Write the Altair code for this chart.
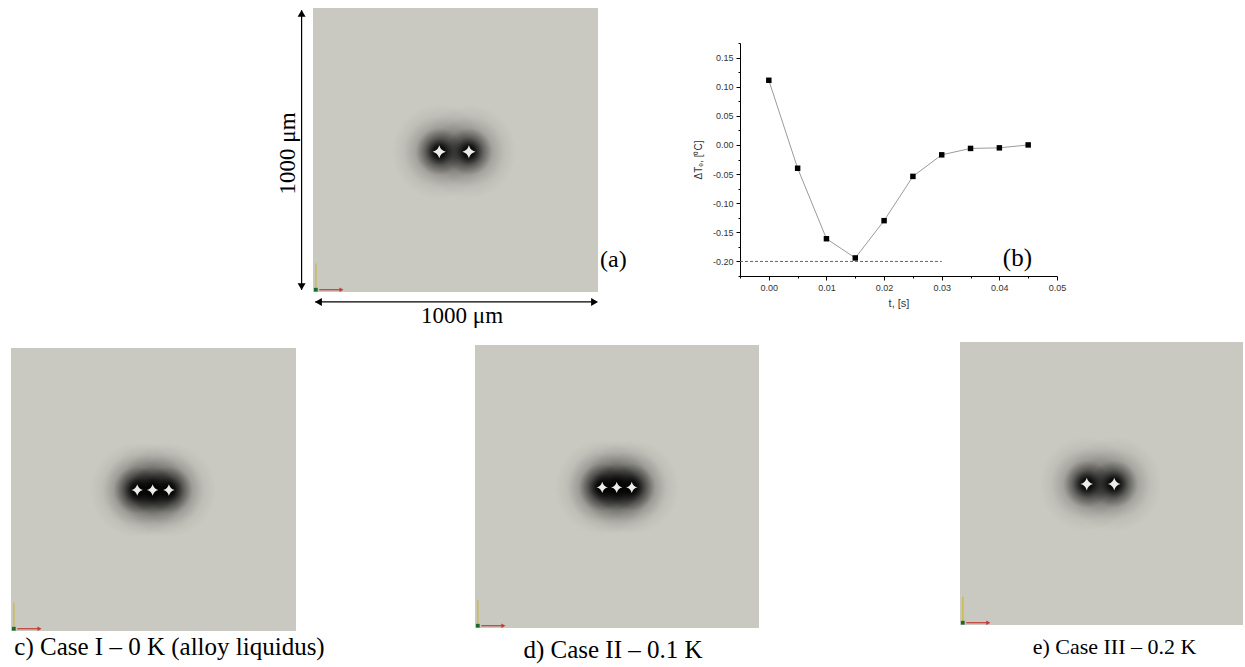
import altair as alt
import pandas as pd

# ------------------------------------------------------------------ values
# (b) undercooling of the domain versus time
t_s = [0.000, 0.005, 0.010, 0.015, 0.020, 0.025, 0.030, 0.035, 0.040, 0.045]
dT_C = [0.111, -0.040, -0.161, -0.194, -0.130, -0.054, -0.017, -0.006, -0.005, 0.000]
ref_t = [-0.005, 0.030]
ref_dT = [-0.20]
t_domain = [-0.005, 0.05]
dT_domain = [-0.225, 0.175]
t_ticks = [-0.005, 0.000, 0.005, 0.010, 0.015, 0.020, 0.025, 0.030,
           0.035, 0.040, 0.045, 0.050]
dT_ticks = [-0.225, -0.200, -0.175, -0.150, -0.125, -0.100, -0.075, -0.050,
            -0.025, 0.000, 0.025, 0.050, 0.075, 0.100, 0.125, 0.150, 0.175]
t_title = "t, [s]"
dT_title = "ΔTₑ, [⁰C]"

# simulation domains, 1000 x 1000 μm, grain centres in μm
domain_um = [0, 1000]
grain_x_a = [443, 547]
grain_y_a = [494, 494]
grain_x_c = [443, 497, 554]
grain_y_c = [498, 498, 498]
grain_x_d = [448, 499, 552]
grain_y_d = [497, 497, 497]
grain_x_e = [448, 545]
grain_y_e = [498, 498]

scale_bar_text = "1000 μm"
tag_a = "(a)"
tag_b = "(b)"
caption_c = "c) Case I – 0 K (alloy liquidus)"
caption_d = "d) Case II – 0.1 K"
caption_e = "e) Case III – 0.2 K"

# ------------------------------------------------------------------ layout / style
W, H = 1245, 667
BOX = {  # pixel ranges of each panel: (x range), (y range bottom->top)
    "a": ((313, 598), (292, 8)),
    "b": ((740, 1057), (276, 43)),
    "c": ((11, 296), (631, 348)),
    "d": ((475, 759), (628, 345)),
    "e": ((960, 1243), (625, 342)),
}
SERIF = "Liberation Serif"
SANS = "Liberation Sans"
BG = "#c9c8c1"
STAR_COLOR = "#ececE8"
STAR = ("M0,-1 Q0.2,-0.2 1,0 Q0.2,0.2 0,1 Q-0.2,0.2 -1,0 "
        "Q-0.2,-0.2 0,-1 Z")
HALO = alt.RadialGradient(
    gradient="radial", x1=0.5, y1=0.5, r1=0, x2=0.5, y2=0.5, r2=0.5,
    stops=[
        alt.GradientStop(offset=0.0, color="rgba(0,0,0,1)"),
        alt.GradientStop(offset=0.12, color="rgba(0,0,0,0.9)"),
        alt.GradientStop(offset=0.3, color="rgba(0,0,0,0.5)"),
        alt.GradientStop(offset=0.5, color="rgba(0,0,0,0.18)"),
        alt.GradientStop(offset=0.75, color="rgba(0,0,0,0.05)"),
        alt.GradientStop(offset=1.0, color="rgba(0,0,0,0)"),
    ],
)
HALO_SIZE = 9000


def X(p, f, dom=domain_um, axis=None):
    return alt.X(f"{f}:Q", axis=axis,
                 scale=alt.Scale(domain=dom, range=list(BOX[p][0]), nice=False, zero=False))


def Y(p, f, dom=domain_um, axis=None):
    return alt.Y(f"{f}:Q", axis=axis,
                 scale=alt.Scale(domain=dom, range=list(BOX[p][1]), nice=False, zero=False))


def domain_panel(p, gx, gy, star_size):
    out = []
    frame = pd.DataFrame({"x0": [domain_um[0]], "x1": [domain_um[1]],
                          "y0": [domain_um[0]], "y1": [domain_um[1]]})
    out.append(alt.Chart(frame).mark_rect(color=BG, strokeWidth=0).encode(
        x=X(p, "x0"), x2="x1", y=Y(p, "y0"), y2="y1"))
    g = pd.DataFrame({"x": gx, "y": gy})
    out.append(alt.Chart(g).mark_point(
        shape="circle", filled=True, fill=HALO, size=HALO_SIZE, strokeWidth=0,
        opacity=1).encode(x=X(p, "x"), y=Y(p, "y")))
    out.append(alt.Chart(g).mark_point(
        shape=STAR, filled=True, color=STAR_COLOR, size=star_size, strokeWidth=0,
        opacity=1).encode(x=X(p, "x"), y=Y(p, "y")))
    # orientation triad in the lower-left corner
    yax = pd.DataFrame({"x": [10], "y0": [14], "y1": [100]})
    out.append(alt.Chart(yax).mark_rule(color="#c9bd4e", strokeWidth=1.5).encode(
        x=X(p, "x"), y=Y(p, "y0"), y2="y1"))
    xax = pd.DataFrame({"y": [8], "x0": [22], "x1": [96]})
    out.append(alt.Chart(xax).mark_rule(color="#c23a30", strokeWidth=1.2).encode(
        y=Y(p, "y"), x=X(p, "x0"), x2="x1"))
    head = pd.DataFrame({"x": [100], "y": [8]})
    out.append(alt.Chart(head).mark_point(shape="triangle-right", filled=True,
                                          color="#c23a30", size=22, opacity=1).encode(
        x=X(p, "x"), y=Y(p, "y")))
    org = pd.DataFrame({"x": [10], "y": [8]})
    out.append(alt.Chart(org).mark_point(shape="square", filled=True,
                                         color="#1c6b2c", size=14, opacity=1).encode(
        x=X(p, "x"), y=Y(p, "y")))
    return out


def caption(p, text, size, dx, dy):
    d = pd.DataFrame({"x": [500], "y": [0], "t": [text]})
    return alt.Chart(d).mark_text(font=SERIF, fontSize=size, align="center",
                                  baseline="alphabetic", color="black",
                                  dx=dx, dy=dy).encode(
        x=X(p, "x"), y=Y(p, "y"), text="t:N")


layers = []

# ---------------- (a)
layers += domain_panel("a", grain_x_a, grain_y_a, 170)
vbar = pd.DataFrame({"x": [-40], "y0": [8], "y1": [992]})
layers.append(alt.Chart(vbar).mark_rule(color="black", strokeWidth=1.2).encode(
    x=X("a", "x"), y=Y("a", "y0"), y2="y1"))
hbar = pd.DataFrame({"y": [-35], "x0": [8], "x1": [992]})
layers.append(alt.Chart(hbar).mark_rule(color="black", strokeWidth=1.2).encode(
    y=Y("a", "y"), x=X("a", "x0"), x2="x1"))
heads = pd.DataFrame({"x": [-40, -40, 19, 988], "y": [981, 19, -35, -35],
                      "s": ["triangle-up", "triangle-down", "triangle-left", "triangle-right"]})
layers.append(alt.Chart(heads).mark_point(filled=True, color="black", size=64,
                                          opacity=1).encode(
    x=X("a", "x"), y=Y("a", "y"), shape=alt.Shape("s:N", scale=None)))
lab = pd.DataFrame({"x": [523], "y": [-109], "t": [scale_bar_text]})
layers.append(alt.Chart(lab).mark_text(font=SERIF, fontSize=23, align="center",
                                       baseline="alphabetic", color="black").encode(
    x=X("a", "x"), y=Y("a", "y"), text="t:N"))
labv = pd.DataFrame({"x": [-63], "y": [488], "t": [scale_bar_text]})
layers.append(alt.Chart(labv).mark_text(font=SERIF, fontSize=23, align="center",
                                        baseline="alphabetic", angle=270,
                                        color="black").encode(
    x=X("a", "x"), y=Y("a", "y"), text="t:N"))
taga = pd.DataFrame({"x": [1007], "y": [88], "t": [tag_a]})
layers.append(alt.Chart(taga).mark_text(font=SERIF, fontSize=24, align="left",
                                        baseline="alphabetic", color="black").encode(
    x=X("a", "x"), y=Y("a", "y"), text="t:N"))

# ---------------- (b)
MAJ_T = "abs(datum.value*100 - round(datum.value*100)) < 0.001"
MAJ_D = "abs(datum.value*20 - round(datum.value*20)) < 0.001"
FMT = "replace(format(datum.value, '.2f'), '\u2212', '-')"
common_axis = dict(domainColor="black", tickColor="black", labelColor="#333333",
                   labelFont=SANS, labelFontSize=9, labelFlush=False,
                   labelOverlap=False, titleFont=SANS, titleFontWeight="normal",
                   titleColor="#333333", grid=False, domainWidth=1, tickWidth=1)
x_axis = alt.Axis(orient="bottom", offset=BOX["b"][1][0] - H, values=t_ticks,
                  labelExpr=f"{MAJ_T} ? {FMT} : ''",
                  tickSize={"condition": {"test": MAJ_T, "value": 4}, "value": 2},
                  labelPadding=3, title=t_title, titleFontSize=11, titlePadding=5,
                  **common_axis)
y_axis = alt.Axis(orient="left", offset=-BOX["b"][0][0], values=dT_ticks,
                  labelExpr=f"{MAJ_D} ? {FMT} : ''",
                  tickSize={"condition": {"test": MAJ_D, "value": 4}, "value": 2},
                  labelPadding=3, title=dT_title, titleFontSize=10, titlePadding=9,
                  **common_axis)

ref = pd.DataFrame({"t0": [ref_t[0]], "t1": [ref_t[1]], "v": ref_dT})
layers.append(alt.Chart(ref).mark_rule(color="#666666", strokeDash=[3, 2],
                                       strokeWidth=1).encode(
    x=X("b", "t0", t_domain), x2="t1", y=Y("b", "v", dT_domain)))
bdf = pd.DataFrame({"t": t_s, "dT": dT_C})
layers.append(alt.Chart(bdf).mark_line(color="#9b9b9b", strokeWidth=1).encode(
    x=X("b", "t", t_domain, x_axis), y=Y("b", "dT", dT_domain, y_axis)))
layers.append(alt.Chart(bdf).mark_point(shape="square", filled=True, color="black",
                                        size=30, opacity=1).encode(
    x=X("b", "t", t_domain), y=Y("b", "dT", dT_domain)))
tagb = pd.DataFrame({"x": [0.0406], "y": [-0.208], "t": [tag_b]})
layers.append(alt.Chart(tagb).mark_text(font=SERIF, fontSize=25, align="left",
                                        baseline="alphabetic", color="black").encode(
    x=X("b", "x", t_domain), y=Y("b", "y", dT_domain), text="t:N"))

# ---------------- (c), (d), (e)
layers += domain_panel("c", grain_x_c, grain_y_c, 130)
layers.append(caption("c", caption_c, 25, 16, 24))
layers += domain_panel("d", grain_x_d, grain_y_d, 130)
layers.append(caption("d", caption_d, 25, -4, 30))
layers += domain_panel("e", grain_x_e, grain_y_e, 160)
layers.append(caption("e", caption_e, 22, 13, 29))

chart = (
    alt.layer(*layers)
    .resolve_scale(x="independent", y="independent")
    .properties(width=W, height=H, padding=0, background="white",
                autosize=alt.AutoSizeParams(type="none"))
    .configure_view(stroke=None)
)

chart.save("out.html", embed_options={"renderer": "svg", "actions": False})
